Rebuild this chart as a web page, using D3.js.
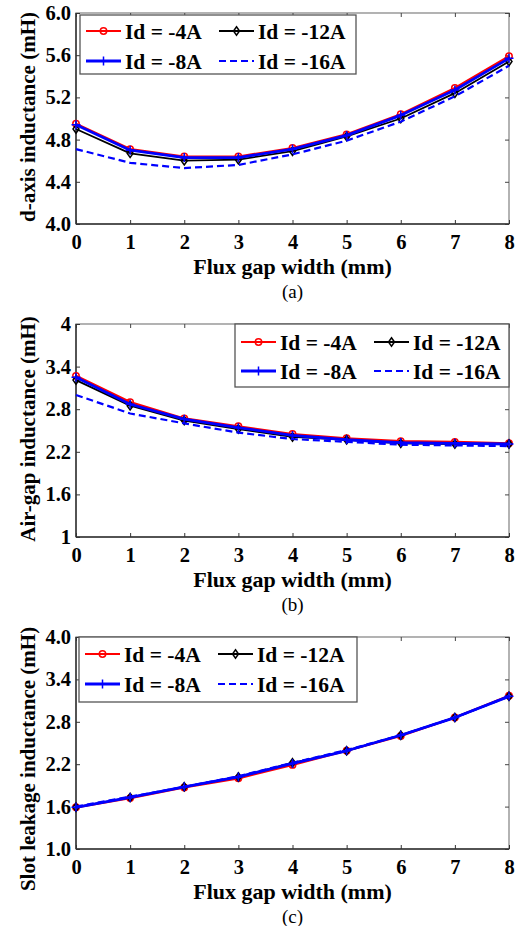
<!DOCTYPE html>
<html>
<head>
<meta charset="utf-8">
<script src="https://cdn.jsdelivr.net/npm/d3@7/dist/d3.min.js"></script>
<style>
  html, body { margin: 0; padding: 0; background: #fff; }
  svg { display: block; font-family: "Liberation Serif", "Times New Roman", serif; }
</style>
</head>
<body>
<svg id="chart" width="525" height="926"></svg>
<script>
// Flux gap width (mm)
const fluxGap = [0, 1, 2, 3, 4, 5, 6, 7, 8];
const xTickLabels = ["0", "1", "2", "3", "4", "5", "6", "7", "8"];
const seriesNames = ["Id = -4A", "Id = -8A", "Id = -12A", "Id = -16A"];

// (a) d-axis inductance (mH)
const dAxisId4  = [4.95, 4.71, 4.64, 4.64, 4.72, 4.85, 5.04, 5.29, 5.59];
const dAxisId8  = [4.94, 4.70, 4.63, 4.63, 4.71, 4.84, 5.03, 5.27, 5.57];
const dAxisId12 = [4.90, 4.67, 4.60, 4.61, 4.69, 4.83, 5.00, 5.24, 5.54];
const dAxisId16 = [4.71, 4.58, 4.53, 4.56, 4.66, 4.79, 4.97, 5.21, 5.50];
const dAxisTicks = ["4.0", "4.4", "4.8", "5.2", "5.6", "6.0"];

// (b) air-gap inductance (mH)
const airGapId4  = [3.27, 2.90, 2.67, 2.56, 2.45, 2.39, 2.35, 2.34, 2.32];
const airGapId8  = [3.25, 2.87, 2.66, 2.54, 2.43, 2.37, 2.33, 2.32, 2.31];
const airGapId12 = [3.21, 2.85, 2.64, 2.52, 2.41, 2.37, 2.32, 2.31, 2.31];
const airGapId16 = [3.00, 2.74, 2.60, 2.47, 2.38, 2.34, 2.30, 2.29, 2.28];
const airGapTicks = ["1", "1.6", "2.2", "2.8", "3.4", "4"];

// (c) slot leakage inductance (mH)
const slotId4  = [1.59, 1.72, 1.87, 2.00, 2.19, 2.39, 2.60, 2.86, 3.17];
const slotId8  = [1.59, 1.73, 1.88, 2.02, 2.21, 2.39, 2.61, 2.86, 3.16];
const slotId12 = [1.59, 1.73, 1.88, 2.02, 2.22, 2.39, 2.61, 2.86, 3.16];
const slotId16 = [1.60, 1.74, 1.88, 2.03, 2.22, 2.40, 2.61, 2.86, 3.16];
const slotTicks = ["1.0", "1.6", "2.2", "2.8", "3.4", "4.0"];

// Line styles per current level (order matches seriesNames)
const styles = [
  { color: "#ff0000", width: 2.2, dash: null,  marker: "circle"  },
  { color: "#0000ff", width: 2.8, dash: null,  marker: "plus"    },
  { color: "#000000", width: 1.8, dash: null,  marker: "diamond" },
  { color: "#0000ff", width: 2.2, dash: "7,4", marker: null      }
];
const drawOrder = [0, 2, 1, 3];

const panels = [
  { ylabel: "d-axis inductance (mH)", caption: "(a)", top: 13, bottom: 224,
    ticks: dAxisTicks, series: [dAxisId4, dAxisId8, dAxisId12, dAxisId16],
    legend: { x: 80, y: 15, w: 276, h: 59, r1: 16, r2: 46 }, ylabelY: 117 },
  { ylabel: "Air-gap inductance (mH)", caption: "(b)", top: 324, bottom: 537,
    ticks: airGapTicks, series: [airGapId4, airGapId8, airGapId12, airGapId16],
    legend: { x: 235, y: 324, w: 274, h: 63, r1: 18, r2: 47 }, ylabelY: 429 },
  { ylabel: "Slot leakage inductance (mH)", caption: "(c)", top: 637, bottom: 849,
    ticks: slotTicks, series: [slotId4, slotId8, slotId12, slotId16],
    legend: { x: 79, y: 637, w: 278, h: 65, r1: 17, r2: 47 }, ylabelY: 759 }
];

const FONT = "Liberation Serif";
const left = 76, right = 509;
const svg = d3.select("#chart");
const x = d3.scaleLinear().domain([0, 8]).range([left, right]);

function label(sel, size, bold) {
  return sel.style("font-family", FONT).style("font-size", size + "px")
    .style("font-weight", bold ? "bold" : "normal").attr("fill", "#000");
}

function drawMarker(g, type, color, cx, cy) {
  if (type === "circle") {
    g.append("circle").attr("cx", cx).attr("cy", cy).attr("r", 3.2)
      .attr("fill", "none").attr("stroke", color).attr("stroke-width", 1.5);
  } else if (type === "diamond") {
    g.append("path")
      .attr("d", `M${cx},${cy - 4.2}L${cx + 3},${cy}L${cx},${cy + 4.2}L${cx - 3},${cy}Z`)
      .attr("fill", "none").attr("stroke", color).attr("stroke-width", 1.5);
  } else if (type === "plus") {
    g.append("path")
      .attr("d", `M${cx - 4.5},${cy}H${cx + 4.5}M${cx},${cy - 4.5}V${cy + 4.5}`)
      .attr("fill", "none").attr("stroke", color).attr("stroke-width", 1.5);
  }
}

panels.forEach(p => {
  const tickVals = p.ticks.map(Number);
  const y = d3.scaleLinear().domain(d3.extent(tickVals)).range([p.bottom, p.top]);
  const g = svg.append("g");

  // frame: top/right lighter, left/bottom darker
  g.append("rect").attr("x", left).attr("y", p.top)
    .attr("width", right - left).attr("height", p.bottom - p.top)
    .attr("fill", "none").attr("stroke", "#8a8a8a").attr("stroke-width", 1.3);

  // inward ticks on the right and top
  const yRight = d3.axisLeft(y).tickValues(tickVals).tickSize(4).tickFormat("");
  g.append("g").attr("transform", `translate(${right},0)`).call(yRight)
    .call(a => a.select(".domain").remove())
    .call(a => a.selectAll("line").attr("stroke", "#444"));
  const xTop = d3.axisBottom(x).tickValues(fluxGap).tickSize(4).tickFormat("");
  g.append("g").attr("transform", `translate(0,${p.top})`).call(xTop)
    .call(a => a.select(".domain").remove())
    .call(a => a.selectAll("line").attr("stroke", "#444"));

  // left axis with labels, ticks inward
  const yAxis = d3.axisRight(y).tickValues(tickVals).tickSize(4)
    .tickFormat((d, i) => p.ticks[i]);
  const ya = g.append("g").attr("transform", `translate(${left},0)`).call(yAxis);
  ya.select(".domain").attr("d", `M0,${p.top}V${p.bottom}`).attr("stroke", "#333").attr("stroke-width", 1.5);
  ya.selectAll("line").attr("stroke", "#333");
  label(ya.selectAll("text"), 20.5, true).attr("x", -5).attr("text-anchor", "end");

  // bottom axis with labels, ticks inward
  const xAxis = d3.axisTop(x).tickValues(fluxGap).tickSize(4)
    .tickFormat((d, i) => xTickLabels[i]);
  const xa = g.append("g").attr("transform", `translate(0,${p.bottom})`).call(xAxis);
  xa.select(".domain").attr("d", `M${left},0H${right}`).attr("stroke", "#333").attr("stroke-width", 1.5);
  xa.selectAll("line").attr("stroke", "#333");
  label(xa.selectAll("text"), 20.5, true).attr("y", 18).attr("dy", "0.35em");

  // series lines
  const line = d3.line().x((d, i) => x(fluxGap[i])).y(d => y(d));
  drawOrder.forEach(si => {
    const s = styles[si];
    const vals = p.series[si];
    g.append("path").datum(vals).attr("d", line)
      .attr("fill", "none").attr("stroke", s.color).attr("stroke-width", s.width)
      .attr("stroke-dasharray", s.dash).attr("stroke-linejoin", "round");
    if (s.marker) {
      const mg = g.append("g");
      vals.forEach((v, i) => drawMarker(mg, s.marker, s.color, x(fluxGap[i]), y(v)));
    }
  });

  // legend
  const L = p.legend;
  const lg = g.append("g");
  lg.append("rect").attr("x", L.x).attr("y", L.y).attr("width", L.w).attr("height", L.h)
    .attr("fill", "#fff").attr("stroke", "#555").attr("stroke-width", 1.3);
  const slots = [
    { si: 0, col: 0, row: L.r1 }, { si: 1, col: 0, row: L.r2 },
    { si: 2, col: 1, row: L.r1 }, { si: 3, col: 1, row: L.r2 }
  ];
  slots.forEach(e => {
    const s = styles[e.si];
    const x0 = L.x + (e.col === 0 ? 6 : 139);
    const x1 = x0 + 35;
    const yy = L.y + e.row;
    lg.append("line").attr("x1", x0).attr("x2", x1).attr("y1", yy).attr("y2", yy)
      .attr("stroke", s.color).attr("stroke-width", s.width)
      .attr("stroke-dasharray", s.dash);
    if (s.marker) drawMarker(lg, s.marker, s.color, (x0 + x1) / 2, yy);
    label(lg.append("text"), 21.5, true).attr("x", x1 + 4).attr("y", yy).attr("dy", "0.35em")
      .text(seriesNames[e.si]);
  });

  // axis titles and caption
  label(g.append("text"), 22, true).attr("x", (left + right) / 2).attr("y", p.bottom + 42)
    .attr("dy", "0.35em").attr("text-anchor", "middle").text("Flux gap width (mm)");
  label(g.append("text"), 21, true).attr("transform", `translate(28,${p.ylabelY}) rotate(-90)`)
    .attr("dy", "0.35em").attr("text-anchor", "middle").text(p.ylabel);
  label(g.append("text"), 19, false).attr("x", (left + right) / 2).attr("y", p.bottom + 67)
    .attr("dy", "0.35em").attr("text-anchor", "middle").text(p.caption);
});
</script>
</body>
</html>
